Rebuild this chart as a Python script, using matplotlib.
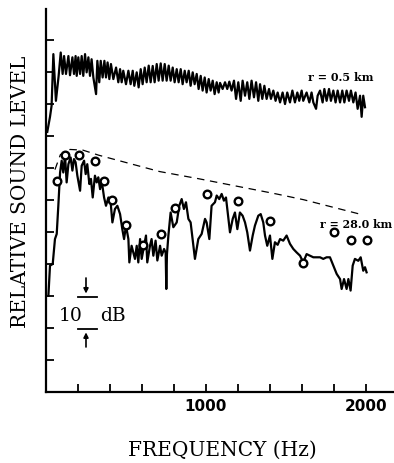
import matplotlib.pyplot as plt

# spectrum at r = 0.5 km (frequency in Hz, relative level in dB)
near_freq = [8, 25, 35, 46, 62, 79, 92, 104, 113, 125,
             140, 150, 165, 175, 185, 192, 202, 213, 223, 233,
             244, 254, 265, 275, 285, 296, 313, 321, 333, 342,
             354, 365, 375, 385, 396, 406, 421, 438, 452, 463,
             473, 483, 500, 515, 529, 542, 552, 567, 579, 592,
             604, 617, 629, 642, 654, 667, 679, 692, 704, 717,
             729, 742, 754, 767, 779, 792, 804, 817, 829, 842,
             854, 867, 879, 892, 904, 917, 929, 942, 954, 967,
             979, 992, 1004, 1017, 1029, 1042, 1054, 1067, 1079, 1088,
             1104, 1119, 1133, 1146, 1160, 1175, 1188, 1202, 1217, 1229,
             1244, 1258, 1271, 1285, 1300, 1313, 1327, 1338, 1352, 1365,
             1379, 1394, 1406, 1421, 1435, 1448, 1463, 1479, 1494, 1508,
             1525, 1540, 1556, 1571, 1583, 1598, 1608, 1629, 1646, 1660,
             1671, 1688, 1698, 1713, 1729, 1740, 1754, 1769, 1781, 1796,
             1810, 1823, 1838, 1852, 1865, 1879, 1894, 1906, 1921, 1935,
             1948, 1963, 1973, 1983, 1994]
near_level = [81.3, 86.0, 89.5, 105.6, 91.0, 98.8, 106.1, 99.4, 105.0, 99.4,
              105.0, 99.0, 104.6, 99.4, 105.0, 98.8, 104.6, 99.4, 105.0, 98.8,
              105.6, 99.9, 104.6, 98.8, 104.0, 98.3, 93.1, 103.5, 96.8, 103.5,
              98.3, 103.5, 98.3, 103.0, 97.8, 102.5, 97.8, 101.4, 96.8, 100.9,
              96.8, 100.4, 96.2, 100.4, 96.2, 100.4, 95.7, 99.9, 95.2, 100.9,
              96.2, 101.4, 96.8, 102.0, 96.8, 101.9, 96.8, 102.5, 97.3, 102.7,
              97.3, 102.5, 97.3, 102.0, 97.3, 101.4, 96.8, 100.9, 96.8, 100.9,
              96.2, 100.4, 96.8, 100.4, 95.7, 99.9, 96.2, 99.4, 94.7, 98.8,
              94.2, 98.3, 93.6, 97.8, 94.2, 97.3, 93.1, 96.8, 93.6, 96.6,
              94.7, 96.8, 94.7, 97.0, 94.2, 97.3, 91.6, 96.8, 91.0, 97.3,
              92.6, 96.8, 91.6, 97.3, 92.1, 96.8, 91.0, 96.2, 91.6, 95.7,
              91.6, 94.7, 91.6, 94.2, 91.0, 93.6, 90.5, 93.6, 90.0, 93.6,
              90.5, 94.2, 90.5, 93.6, 91.0, 94.2, 91.0, 93.6, 90.5, 93.6,
              90.5, 88.5, 92.6, 94.2, 90.5, 94.7, 91.0, 94.7, 91.0, 94.2,
              90.5, 94.2, 90.5, 94.2, 90.5, 94.2, 91.0, 94.2, 90.5, 93.6,
              88.5, 92.6, 86.0, 92.6, 89.0]

# spectrum at r = 28.0 km
far_freq = [15, 25, 42, 56, 67, 77, 88, 98, 108, 119, 129, 140, 154, 165, 175, 185, 196, 213,
            223, 238, 248, 258, 271, 281, 292, 306, 317, 327, 338, 348, 363, 375, 390, 404,
            415, 431, 446, 463, 477, 488, 500, 515, 521, 535, 546, 556, 567, 577, 588, 598,
            613, 625, 633, 650, 660, 671, 685, 696, 713, 723, 738, 748, 752, 756, 765, 779,
            796, 817, 833, 848, 862, 875, 890, 904, 921, 931, 952, 973, 994, 1004, 1021,
            1035, 1056, 1067, 1083, 1098, 1112, 1125, 1140, 1150, 1167, 1181, 1196, 1212,
            1229, 1244, 1258, 1275, 1292, 1306, 1327, 1342, 1358, 1369, 1383, 1400, 1415,
            1431, 1448, 1463, 1483, 1504, 1525, 1546, 1567, 1588, 1608, 1629, 1650, 1671,
            1692, 1713, 1733, 1754, 1775, 1796, 1817, 1838, 1848, 1863, 1879, 1890, 1904,
            1917, 1931, 1952, 1967, 1983, 1994, 2004]
far_level = [30.1, 39.5, 40.0, 47.8, 49.4, 58.2, 68.6, 72.3, 68.6, 73.9, 65.5, 71.2, 73.3,
             69.2, 72.8, 71.8, 67.6, 62.9, 70.7, 72.3, 68.1, 71.2, 65.0, 66.6, 60.8, 67.6,
             65.5, 67.1, 63.4, 66.0, 60.8, 58.2, 60.8, 59.3, 53.0, 57.2, 58.2, 55.6, 50.9,
             47.8, 52.0, 47.8, 40.5, 45.7, 43.6, 41.6, 45.7, 40.5, 47.8, 41.6, 45.7, 48.9,
             40.5, 45.7, 47.8, 42.6, 47.3, 41.1, 45.7, 42.6, 44.7, 43.5, 32.2, 43.0, 48.9,
             56.1, 51.5, 53.0, 58.2, 60.3, 57.2, 59.3, 54.1, 53.0, 45.7, 41.6, 47.8, 49.4,
             54.1, 53.0, 47.8, 58.2, 59.3, 61.4, 60.3, 61.9, 59.8, 60.8, 54.1, 49.9, 54.1,
             56.1, 50.9, 56.1, 55.1, 53.0, 49.9, 44.2, 48.9, 52.0, 55.1, 55.6, 53.0, 48.9,
             45.7, 48.9, 41.6, 46.8, 46.0, 47.8, 47.3, 48.9, 46.3, 44.7, 43.6, 42.6, 40.5,
             43.1, 42.6, 42.1, 42.1, 42.1, 41.6, 42.1, 42.1, 39.5, 36.9, 35.3, 32.2, 35.3,
             32.2, 35.3, 31.7, 39.5, 41.6, 41.0, 42.1, 37.9, 39.0, 37.4]

# measured / predicted points (open circles)
circle_freq = [67, 119, 208, 306, 365, 410, 498, 608, 719, 804, 1008, 1202, 1402, 1604, 1802,
               1906, 2004]
circle_level = [66.0, 74.2, 74.2, 72.1, 65.8, 59.9, 52.3, 45.9, 49.4, 57.4, 61.9, 59.7, 53.5,
                40.3, 49.9, 47.5, 47.5]

# dashed envelope
envelope_freq = [56, 90, 150, 230, 330, 710, 960, 1440, 1610, 1985]
envelope_level = [69.5, 74.2, 75.8, 75.6, 74.0, 68.9, 66.6, 61.9, 60.1, 55.3]

fig = plt.figure(figsize=(3.94, 4.64), dpi=100)
ax = fig.add_axes([46 / 394, 71 / 464, 347 / 394, 383 / 464])

ax.plot(near_freq, near_level, color='black', lw=1.6)
ax.plot(far_freq, far_level, color='black', lw=1.6)
ax.plot(envelope_freq, envelope_level, color='black', lw=0.9, dashes=(6, 4.5))
ax.plot(circle_freq, circle_level, 'o', ms=5.5, mfc='white', mec='black', mew=1.7, zorder=5)

ax.text(1843, 98.6, 'r = 0.5 km', fontsize=8, family='DejaVu Serif', fontweight='bold',
        ha='center', va='center')
ax.text(1937, 52.8, 'r = 28.0 km', fontsize=7.9, family='DejaVu Serif', fontweight='bold',
        ha='center', va='center')

# 10 dB scale bar
ax.plot([200, 320], [29.7, 29.7], color='black', lw=1.3)
ax.plot([200, 320], [19.7, 19.7], color='black', lw=1.3)
ax.annotate('', xy=(250, 29.9), xytext=(250, 36.5),
            arrowprops=dict(arrowstyle='-|>', color='black', lw=1.2, mutation_scale=7))
ax.annotate('', xy=(250, 19.5), xytext=(250, 13.2),
            arrowprops=dict(arrowstyle='-|>', color='black', lw=1.2, mutation_scale=7))
ax.text(156, 24.2, '10', fontsize=13.5, family='DejaVu Serif', ha='center', va='center')
ax.text(417, 24.2, 'dB', fontsize=13.5, family='DejaVu Serif', ha='center', va='center')

ax.set_xlim(0, 2169)
ax.set_ylim(0, 119.7)
ax.set_xticks([200, 400, 600, 800, 1000, 1200, 1400, 1600, 1800, 2000])
ax.set_xticklabels(['', '', '', '', '1000', '', '', '', '', '2000'],
                   fontsize=11, fontweight='bold')
ax.set_yticks([10, 20, 30, 40, 50, 60, 70, 80, 90, 100, 110])
ax.set_yticklabels([])
ax.tick_params(direction='in', length=6, width=1.3, pad=4)
ax.spines['top'].set_visible(False)
ax.spines['right'].set_visible(False)
ax.spines['left'].set_linewidth(1.6)
ax.spines['bottom'].set_linewidth(1.6)

fig.text(222 / 394, 1 - 450 / 464, 'FREQUENCY (Hz)', fontsize=14.5,
         family='DejaVu Serif', ha='center', va='center')
fig.text(21 / 394, 1 - 192 / 464, 'RELATIVE SOUND LEVEL', fontsize=14.5,
         family='DejaVu Serif', ha='center', va='center', rotation=90)

fig.savefig('out.png', dpi=100, facecolor='white')
